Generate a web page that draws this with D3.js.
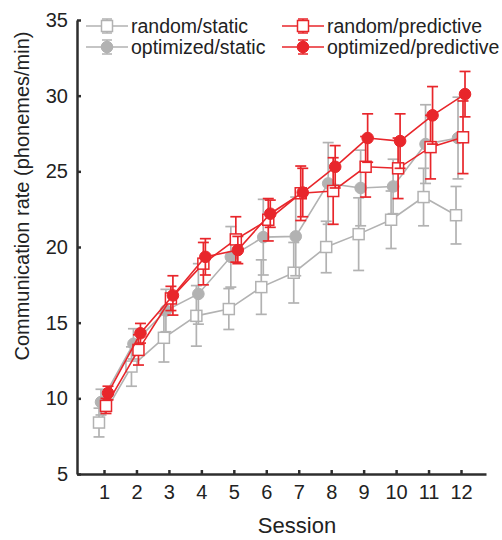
<!DOCTYPE html>
<html>
<head>
<meta charset="utf-8">
<script src="https://cdn.jsdelivr.net/npm/d3@7"></script>
<style>
  html, body { margin: 0; padding: 0; background: #fff; }
  svg { display: block; font-family: "Liberation Sans", Arial, sans-serif; }
</style>
</head>
<body>
<svg id="chart" width="502" height="540"></svg>
<script>
// Communication rate per session, mean and error (phonemes/min)
const sessions = [1, 2, 3, 4, 5, 6, 7, 8, 9, 10, 11, 12];

const randomStaticMean = [8.4, 12.1, 14.0, 15.45, 15.9, 17.35, 18.3, 20.0, 20.85, 21.8, 23.3, 22.1];
const randomStaticErr  = [0.95, 1.3, 1.6, 2.0, 1.35, 1.8, 2.0, 1.7, 2.4, 1.9, 1.9, 1.9];

const optimizedStaticMean = [9.75, 13.6, 15.8, 16.9, 19.35, 20.65, 20.7, 24.2, 23.9, 24.0, 26.8, 27.2];
const optimizedStaticErr  = [0.85, 1.0, 1.4, 2.0, 2.0, 2.5, 2.6, 2.7, 2.5, 1.8, 2.6, 2.7];

const randomPredictiveMean = [9.5, 13.2, 16.6, 18.9, 20.5, 21.8, 23.55, 23.7, 25.3, 25.2, 26.6, 27.25];
const randomPredictiveErr  = [0.5, 1.0, 0.8, 1.4, 1.5, 1.4, 1.8, 2.2, 2.0, 2.0, 2.1, 2.4];

const optimizedPredictiveMean = [10.35, 14.3, 16.8, 19.35, 19.8, 22.2, 23.6, 25.3, 27.2, 27.0, 28.7, 30.1];
const optimizedPredictiveErr  = [0.45, 0.65, 1.3, 1.2, 0.9, 0.9, 1.6, 1.4, 1.6, 1.8, 1.9, 1.5];

const seriesNames = ["random/static", "optimized/static", "random/predictive", "optimized/predictive"];
const yTicks = [5, 10, 15, 20, 25, 30, 35];

// Visual style per series: colour, marker, small horizontal dodge (px)
const GREY = "#b2b2b2", RED = "#e8262b";
const styles = {
  "random/static":        { color: GREY, marker: "square", dodge: -5 },
  "optimized/static":     { color: GREY, marker: "circle", dodge: -3 },
  "random/predictive":    { color: RED,  marker: "square", dodge: 2 },
  "optimized/predictive": { color: RED,  marker: "circle", dodge: 4 }
};

const series = [
  { name: seriesNames[0], mean: randomStaticMean, err: randomStaticErr },
  { name: seriesNames[1], mean: optimizedStaticMean, err: optimizedStaticErr },
  { name: seriesNames[2], mean: randomPredictiveMean, err: randomPredictiveErr },
  { name: seriesNames[3], mean: optimizedPredictiveMean, err: optimizedPredictiveErr }
];

const svg = d3.select("#chart");
const AXIS = "#2e2e2e";

const x = d3.scaleLinear().domain([0.168, 12.77]).range([77, 486]);
const y = d3.scaleLinear().domain([5, 35]).range([474, 20]);

// Axes
const yAxis = svg.append("g").attr("transform", "translate(77,0)")
  .call(d3.axisLeft(y).tickValues(yTicks).tickSizeInner(-4).tickSizeOuter(0).tickPadding(9));
const xAxis = svg.append("g").attr("transform", "translate(0,474)")
  .call(d3.axisBottom(x).tickValues(sessions).tickSizeInner(-4).tickSizeOuter(0).tickPadding(11));

[yAxis, xAxis].forEach(g => {
  g.select(".domain").attr("stroke", AXIS).attr("stroke-width", 2.5);
  g.selectAll(".tick line").attr("stroke", AXIS).attr("stroke-width", 2.5);
  g.selectAll(".tick text").attr("fill", "#222").style("font-size", "20px");
});
xAxis.selectAll(".tick text").attr("dy", "0.71em");

svg.append("text")
  .attr("x", 297).attr("y", 533)
  .attr("text-anchor", "middle")
  .attr("fill", "#222")
  .style("font-size", "22px")
  .text("Session");

svg.append("text")
  .attr("transform", "translate(29,196) rotate(-90)")
  .attr("text-anchor", "middle")
  .attr("fill", "#222")
  .style("font-size", "20px")
  .text("Communication rate (phonemes/min)");

// Draw one marker (square or circle) into a selection
function drawMarker(g, kind, color, cx, cy) {
  if (kind === "circle") {
    g.append("circle").attr("cx", cx).attr("cy", cy).attr("r", 5.8)
      .attr("fill", color).attr("stroke", color).attr("stroke-width", 1);
  } else {
    g.append("rect").attr("x", cx - 5.5).attr("y", cy - 5.5)
      .attr("width", 11).attr("height", 11)
      .attr("fill", "#fff").attr("stroke", color).attr("stroke-width", 1.5);
  }
}

const plot = svg.append("g");
const capHalf = 5.5;

series.forEach(s => {
  const st = styles[s.name];
  const pts = sessions.map((d, i) => ({ sx: x(d) + st.dodge, m: s.mean[i], e: s.err[i] }));
  const g = plot.append("g");

  // error bars
  pts.forEach(p => {
    const top = y(p.m + p.e), bot = y(p.m - p.e);
    g.append("line").attr("x1", p.sx).attr("x2", p.sx).attr("y1", top).attr("y2", bot)
      .attr("stroke", st.color).attr("stroke-width", 1.7);
    [top, bot].forEach(yy => g.append("line")
      .attr("x1", p.sx - capHalf).attr("x2", p.sx + capHalf).attr("y1", yy).attr("y2", yy)
      .attr("stroke", st.color).attr("stroke-width", 1.7));
  });

  // connecting line
  g.append("path")
    .datum(pts)
    .attr("fill", "none")
    .attr("stroke", st.color)
    .attr("stroke-width", 1.6)
    .attr("d", d3.line().x(p => p.sx).y(p => y(p.m)));

  pts.forEach(p => drawMarker(g, st.marker, st.color, p.sx, y(p.m)));
});

// Legend: two columns, two rows
const legendPos = [
  { name: seriesNames[0], lx: 86, ly: 26 },
  { name: seriesNames[1], lx: 86, ly: 47 },
  { name: seriesNames[2], lx: 282, ly: 26 },
  { name: seriesNames[3], lx: 282, ly: 47 }
];
const legend = svg.append("g");
legendPos.forEach(l => {
  const st = styles[l.name];
  const g = legend.append("g");
  const cx = l.lx + 21;
  g.append("line").attr("x1", l.lx).attr("x2", l.lx + 42).attr("y1", l.ly).attr("y2", l.ly)
    .attr("stroke", st.color).attr("stroke-width", 1.6);
  g.append("line").attr("x1", cx).attr("x2", cx).attr("y1", l.ly - 7).attr("y2", l.ly + 7)
    .attr("stroke", st.color).attr("stroke-width", 1.5);
  [l.ly - 7, l.ly + 7].forEach(yy => g.append("line")
    .attr("x1", cx - 5).attr("x2", cx + 5).attr("y1", yy).attr("y2", yy)
    .attr("stroke", st.color).attr("stroke-width", 1.5));
  drawMarker(g, st.marker, st.color, cx, l.ly);
  g.append("text").attr("x", l.lx + 45).attr("y", l.ly).attr("dy", "0.35em")
    .attr("fill", "#222").style("font-size", "19.5px").text(l.name);
});
</script>
</body>
</html>
